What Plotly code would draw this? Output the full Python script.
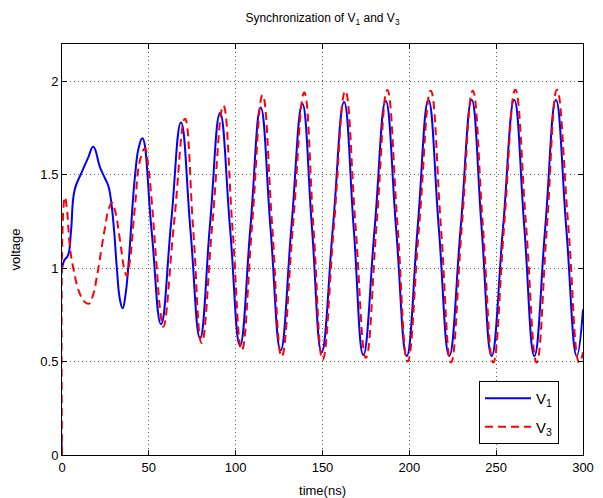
import plotly.graph_objects as go

# ---- data ----
t_v1 = [0, 0.8, 3.5, 5.2, 7.3, 11.2, 15.0, 18.0, 21.9, 24.8, 26.7, 28.2, 30.1, 31.5, 33.4, 34.9,
        36.6, 38.2, 42.0, 44.3,
        46.3, 51.6, 57.0, 62.8,
        68.5, 74.0, 79.5, 85.2,
        91.0, 96.8, 102.5, 108.5,
        114.4, 120.1, 125.9, 132.1,
        138.4, 143.9, 149.5, 156.0,
        162.4, 168.0, 173.5, 180.0,
        186.4, 192.4, 198.5, 204.8,
        211.0, 217.0, 223.0, 229.5,
        235.9, 241.6, 247.4, 253.9,
        260.4, 266.2, 272.0, 278.2,
        284.4, 290.4, 296.4, 300.0]
v1 = [0.0, 1.03, 1.07, 1.20, 1.42, 1.51, 1.59, 1.65, 1.54, 1.48, 1.44, 1.365, 1.19, 1.01, 0.83, 0.785,
      0.86, 1.01, 1.49, 1.65,
      1.695, 1.20, 0.70, 1.24,
      1.78, 1.20, 0.625, 1.23,
      1.83, 1.21, 0.585, 1.22,
      1.86, 1.21, 0.56, 1.22,
      1.88, 1.22, 0.55, 1.22,
      1.89, 1.21, 0.535, 1.21,
      1.895, 1.21, 0.53, 1.22,
      1.90, 1.21, 0.53, 1.21,
      1.90, 1.22, 0.53, 1.21,
      1.90, 1.22, 0.53, 1.21,
      1.90, 1.21, 0.53, 0.78]

t_v3 = [0, 0.7, 1.7, 2.8, 4.5, 6.5, 10.4, 13.0, 15.5, 18.0, 20.0, 24.8, 27.0, 28.8, 30.5, 33.4,
        36.0, 37.3, 38.8, 42.0, 45.0, 47.8, 49.6, 51.6, 54.5, 56.5, 58.3, 64.5,
        70.8, 75.6, 80.4, 86.6,
        92.9, 98.2, 103.5, 109.5,
        115.5, 121.0, 126.5, 133.0,
        139.5, 144.8, 150.1, 156.6,
        163.1, 169.0, 175.0, 181.2,
        187.3, 193.2, 199.0, 205.6,
        212.3, 218.2, 224.0, 230.2,
        236.5, 242.4, 248.3, 254.6,
        261.0, 267.2, 273.3, 279.2,
        285.0, 291.5, 297.9, 300.0]
v3 = [0.0, 1.30, 1.38, 1.32, 1.12, 1.00, 0.86, 0.82, 0.81, 0.86, 0.95, 1.22, 1.32, 1.35, 1.31, 1.15,
      0.99, 0.96, 1.02, 1.33, 1.58, 1.64, 1.55, 1.365, 1.01, 0.78, 0.687, 1.24,
      1.80, 1.20, 0.60, 1.24,
      1.87, 1.21, 0.56, 1.24,
      1.927, 1.23, 0.526, 1.23,
      1.94, 1.22, 0.51, 1.23,
      1.948, 1.23, 0.52, 1.24,
      1.954, 1.23, 0.50, 1.22,
      1.95, 1.22, 0.495, 1.22,
      1.95, 1.22, 0.495, 1.23,
      1.955, 1.23, 0.495, 1.22,
      1.955, 1.23, 0.495, 0.55]

x_ticks = [0, 50, 100, 150, 200, 250, 300]
y_ticks = [0, 0.5, 1, 1.5, 2]
y_tick_labels = ["0", "0.5", "1", "1.5", "2"]

FONT = "Liberation Sans, Arial, Helvetica, sans-serif"

fig = go.Figure()
fig.add_trace(go.Scatter(x=t_v1, y=v1, mode="lines", name="V<sub>1</sub>",
                         legendgroup="a",
                         line=dict(color="#0000FF", width=2, shape="spline", smoothing=1.3)))
fig.add_trace(go.Scatter(x=t_v3, y=v3, mode="lines", name="V<sub>3</sub>",
                         legendgroup="b",
                         line=dict(color="#FF0000", width=2, shape="spline", smoothing=1.3,
                                   dash="8px,5px")))

axis_common = dict(
    showline=True, linecolor="black", linewidth=1, mirror="ticks",
    ticks="inside", ticklen=5, tickcolor="black",
    showgrid=True, gridcolor="#666666", griddash="1px,3px", gridwidth=1,
    zeroline=False, automargin=False,
    tickfont=dict(family=FONT, size=13, color="black"),
)

# the page body adds an 8px margin, so the figure is 8px smaller on each side
fig.update_layout(
    width=595, height=490,
    paper_bgcolor="white", plot_bgcolor="white",
    margin=dict(l=54, r=20, t=36, b=43),
    font=dict(family=FONT, size=13, color="black"),
    title=dict(text="Synchronization of V<sub>1</sub> and V<sub>3</sub>",
               x=0.5, xref="paper", xanchor="center",
               y=1 - 10 / 490, yref="container", yanchor="middle",
               font=dict(family=FONT, size=12, color="black")),
    xaxis=dict(range=[0, 300], tickvals=x_ticks,
               title=dict(text="time(ns)", standoff=12, font=dict(family=FONT, size=13)),
               **axis_common),
    yaxis=dict(range=[0, 2.2], tickvals=y_ticks, ticktext=y_tick_labels,
               title=dict(text="voltage", standoff=16, font=dict(family=FONT, size=13)),
               **axis_common),
    legend=dict(x=0.954, xanchor="right", y=0.027, yanchor="bottom",
                bgcolor="white", bordercolor="black", borderwidth=1,
                font=dict(family=FONT, size=15, color="black"),
                tracegroupgap=6, itemwidth=46),
    showlegend=True,
)

fig.write_html("out.html")
